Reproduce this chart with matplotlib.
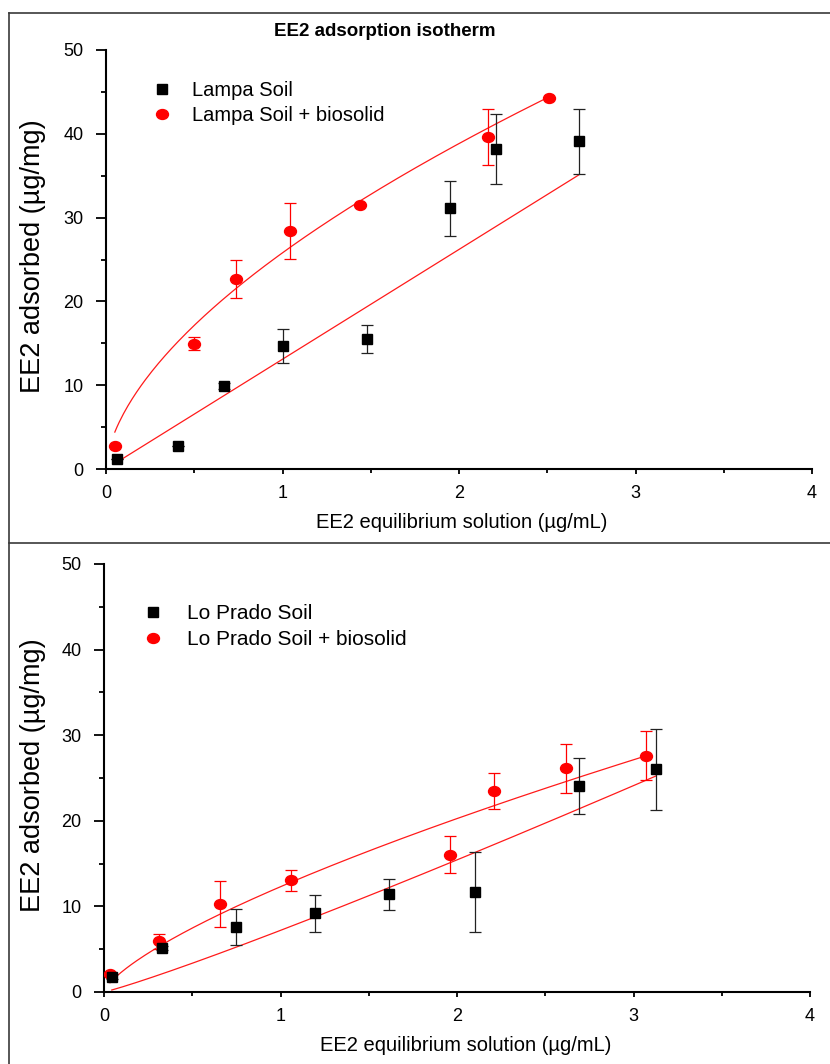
import numpy as np
import matplotlib
matplotlib.use("Agg")
import matplotlib.pyplot as plt
from matplotlib.path import Path
from matplotlib.transforms import Affine2D
from matplotlib.lines import Line2D
from matplotlib.ticker import MultipleLocator

plt.rcParams['font.family'] = ['Liberation Sans', 'DejaVu Sans']

# ---------------- data ----------------
# Top panel: Lampa soil
lampa_x = [0.06, 0.41, 0.67, 1.00, 1.48, 1.95, 2.21, 2.68]
lampa_y = [1.2, 2.7, 9.9, 14.7, 15.5, 31.1, 38.2, 39.1]
lampa_err = [0.0, 0.0, 0.4, 2.0, 1.65, 3.25, 4.2, 3.85]

lampa_bio_x = [0.05, 0.50, 0.736, 1.04, 1.437, 2.163, 2.51]
lampa_bio_y = [2.8, 14.95, 22.7, 28.4, 31.5, 39.6, 44.3]
lampa_bio_err = [0.0, 0.75, 2.25, 3.35, 0.0, 3.3, 0.0]

# Bottom panel: Lo Prado soil
prado_x = [0.044, 0.33, 0.746, 1.195, 1.616, 2.10, 2.69, 3.126]
prado_y = [1.8, 5.15, 7.6, 9.2, 11.4, 11.7, 24.1, 26.0]
prado_err = [0.3, 0.2, 2.15, 2.15, 1.85, 4.7, 3.25, 4.7]

prado_bio_x = [0.034, 0.31, 0.657, 1.06, 1.96, 2.21, 2.616, 3.07]
prado_bio_y = [2.1, 5.9, 10.25, 13.05, 16.05, 23.5, 26.15, 27.6]
prado_bio_err = [0.2, 0.85, 2.7, 1.2, 2.15, 2.1, 2.85, 2.85]

# Freundlich fit parameters (Kf, n)
fit_lampa = (13.1, 1.0)
fit_lampa_bio = (25.8, 0.59)
fit_prado = (7.2, 1.1)
fit_prado_bio = (12.3, 0.72)

xticks = [0, 1, 2, 3, 4]
yticks = [0, 10, 20, 30, 40, 50]

title = "EE2 adsorption isotherm"
xlabel = "EE2 equilibrium solution (\u00b5g/mL)"
ylabel = "EE2 adsorbed (\u00b5g/mg)"

# ---------------- figure ----------------
W, H = 830, 1064
fig = plt.figure(figsize=(W / 100, H / 100), dpi=100)

ellipse = Path.unit_circle().transformed(Affine2D().scale(1.0, 0.83))


def fpos(l, t, r, b):
    return [l / W, 1 - b / H, (r - l) / W, (b - t) / H]


def freundlich(x, p):
    x = np.asarray(x, dtype=float)
    xs = np.linspace(x.min(), x.max(), 200)
    return xs, p[0] * xs ** p[1]


def panel(ax, sx, sy, se, slab, bx, by, be, blab, fit_s, fit_b):
    # fitted curves
    xs, ys = freundlich(sx, fit_s)
    ax.plot(xs, ys, color='#ff1a1a', lw=0.9, zorder=2)
    xs, ys = freundlich(bx, fit_b)
    ax.plot(xs, ys, color='#ff1a1a', lw=0.9, zorder=2)
    # error bars
    ax.errorbar(bx, by, yerr=be, fmt='none', ecolor='red', elinewidth=0.9,
                capsize=4, capthick=0.9, zorder=3)
    ax.errorbar(sx, sy, yerr=se, fmt='none', ecolor='#222222', elinewidth=0.9,
                capsize=4, capthick=0.9, zorder=4)
    hb, = ax.plot(bx, by, linestyle='none', marker=ellipse, ms=8.6,
                  color='red', mec='red', zorder=5, label=blab)
    hs, = ax.plot(sx, sy, linestyle='none', marker='s', ms=7.6,
                  color='black', mec='black', zorder=6, label=slab)
    ax.set_xlim(0, 4)
    ax.set_ylim(0, 50)
    ax.set_xticks(xticks)
    ax.set_yticks(yticks)
    ax.xaxis.set_minor_locator(MultipleLocator(0.5))
    ax.yaxis.set_minor_locator(MultipleLocator(5))
    for s in ('top', 'right'):
        ax.spines[s].set_visible(False)
    for s in ('left', 'bottom'):
        ax.spines[s].set_linewidth(1.5)
    ax.tick_params(axis='y', which='major', direction='out', length=7.2,
                   width=1.3, labelsize=13, pad=9)
    ax.tick_params(axis='y', which='minor', direction='out', length=3.6,
                   width=1.3)
    ax.tick_params(axis='x', which='major', direction='out', length=3.8,
                   width=1.3, labelsize=13, pad=8)
    ax.tick_params(axis='x', which='minor', direction='out', length=3.2,
                   width=1.3)
    return hs, hb


# top panel
ax1 = fig.add_axes(fpos(106, 50, 812, 469))
h1 = panel(ax1, lampa_x, lampa_y, lampa_err, "Lampa Soil",
           lampa_bio_x, lampa_bio_y, lampa_bio_err, "Lampa Soil + biosolid",
           fit_lampa, fit_lampa_bio)
ax1.set_xlabel(xlabel, fontsize=14.5, va='center')
ax1.xaxis.set_label_coords(0.504, -0.127)
ax1.set_ylabel(ylabel, fontsize=19.5, va='center')
ax1.yaxis.set_label_coords(-0.1034, 0.508)
ax1.legend(handles=list(h1), loc='upper left',
           bbox_to_anchor=(152 / W, 1 - 81 / H), bbox_transform=fig.transFigure,
           frameon=False, fontsize=14.5, borderpad=0, borderaxespad=0,
           handlelength=1.0, handletextpad=1.0, labelspacing=0.3,
           numpoints=1)

# bottom panel
ax2 = fig.add_axes(fpos(104, 564, 810, 992))
h2 = panel(ax2, prado_x, prado_y, prado_err, "Lo Prado Soil",
           prado_bio_x, prado_bio_y, prado_bio_err, "Lo Prado Soil + biosolid",
           fit_prado, fit_prado_bio)
ax2.set_xlabel(xlabel, fontsize=14.5, va='center')
ax2.xaxis.set_label_coords(0.513, -0.126)
ax2.set_ylabel(ylabel, fontsize=19.5, va='center')
ax2.yaxis.set_label_coords(-0.1006, 0.507)
ax2.legend(handles=list(h2), loc='upper left',
           bbox_to_anchor=(143 / W, 1 - 604 / H), bbox_transform=fig.transFigure,
           frameon=False, fontsize=15, borderpad=0, borderaxespad=0,
           handlelength=1.0, handletextpad=1.13, labelspacing=0.33,
           numpoints=1)

fig.text(385 / W, 1 - 32 / H, title, fontsize=13.5, fontweight='bold',
         ha='center', va='center')

# panel frame lines
frame_kw = dict(color='#3a3a3a', lw=1.2, transform=fig.transFigure)
fig.add_artist(Line2D([9 / W, 9 / W], [0, 1 - 13 / H], **frame_kw))
fig.add_artist(Line2D([9 / W, 1], [1 - 13 / H, 1 - 13 / H], **frame_kw))
fig.add_artist(Line2D([9 / W, 1], [1 - 543 / H, 1 - 543 / H], **frame_kw))

fig.savefig("out.png", dpi=100, facecolor='white')
